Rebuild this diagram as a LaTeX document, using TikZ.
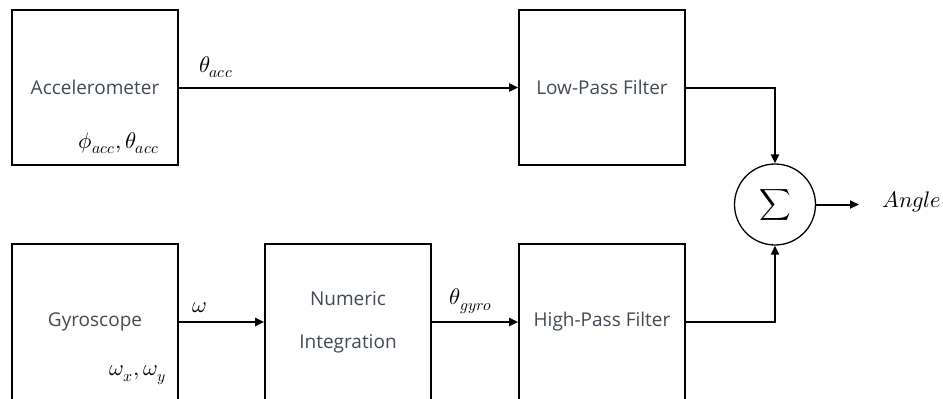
\documentclass[tikz,border=0pt]{standalone}
\usepackage{fontspec}
\usepackage{unicode-math}
\setmainfont{Open Sans}
\setmathfont{Latin Modern Math}
\usetikzlibrary{arrows.meta}
\definecolor{txt}{HTML}{424A54}
\tikzset{
  blockbox/.style={draw=black, line width=1.6pt, minimum width=166pt, minimum height=155pt, inner sep=0pt, text=txt, font=\fontsize{19}{43}\selectfont, align=center},
  arr/.style={line width=2pt, -{Triangle[length=9pt,width=8pt]}},
  mlab/.style={inner sep=0pt, font=\fontsize{22.5}{26}\selectfont},
}
\begin{document}
\begin{tikzpicture}[x=1pt,y=-1pt]
\useasboundingbox (0,0) rectangle (943,399);
\clip (0,0) rectangle (943,399);
\fill[white] (0,0) rectangle (943,399);
% boxes
\node[blockbox] (acc) at (95,87.5) {Accelerometer};
\node[blockbox] (lpf) at (602,87.5) {Low-Pass Filter};
\node[blockbox, minimum height=156pt] (gyr) at (95,322) {Gyroscope};
\node[blockbox, minimum height=156pt] (num) at (348,322) {Numeric\\Integration};
\node[blockbox, minimum height=156pt] (hpf) at (602,322) {High-Pass Filter};
% sum
\node[draw=black, line width=1.3pt, circle, minimum size=81pt, inner sep=0pt] (sum) at (775,204.5)
  {\fontsize{22}{26}\selectfont$\displaystyle\sum$};
\coordinate (out) at (859,204.5);
\node[mlab, anchor=west] (ang) at (882,202) {$Angle$};
% inner labels
\node[mlab] (accv) at (119,143) {$\phi_{acc},\theta_{acc}$};
\node[mlab] (gyrv) at (138,375) {$\omega_x,\omega_y$};
% connectors
\draw[arr] (acc.east) -- (lpf.west);
\draw[arr] (gyr.east) -- (num.west);
\draw[arr] (num.east) -- (hpf.west);
\draw[arr] (lpf.east) -| (sum.north);
\draw[arr] (hpf.east) -| (sum.south);
\draw[arr] (sum.east) -- (out);
% connector labels
\node[mlab] (l1) at (216,67) {$\theta_{acc}$};
\node[mlab] (l2) at (200,308) {$\omega$};
\node[mlab] (l3) at (471,301) {$\theta_{gyro}$};
\end{tikzpicture}
\end{document}
